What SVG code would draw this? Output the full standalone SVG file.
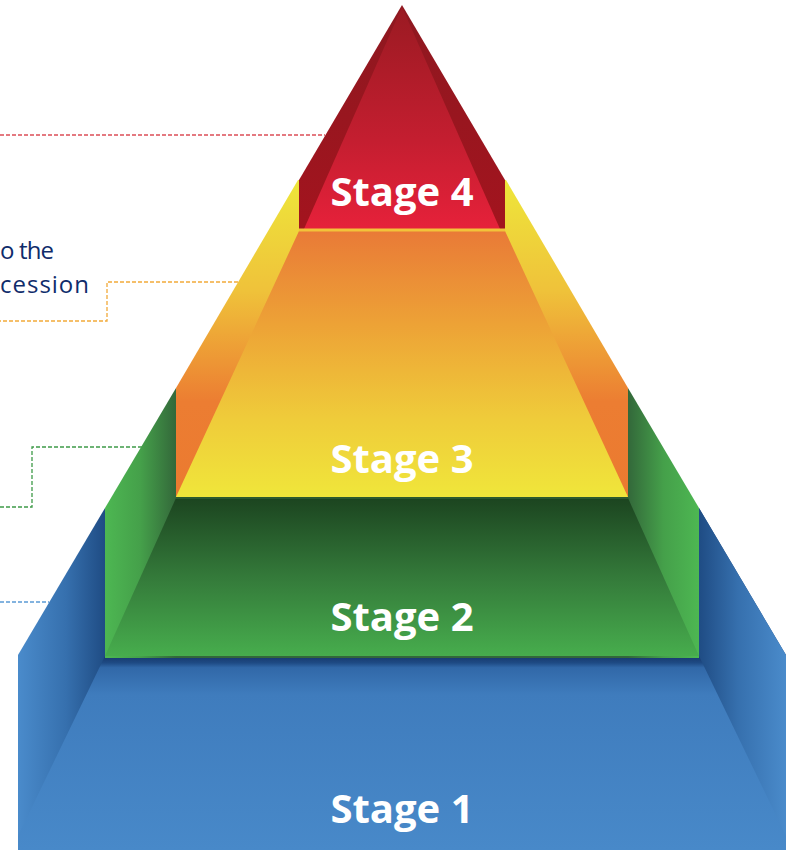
<svg xmlns="http://www.w3.org/2000/svg" width="788" height="850" viewBox="0 0 788 850">
<defs>
<style>
.lbl{font-family:"Open Sans","Liberation Sans",sans-serif;font-weight:bold;font-size:40px;fill:#ffffff;text-anchor:middle}
.side{font-family:"Open Sans","Liberation Sans",sans-serif;font-size:24px;fill:#0F2C6B}
.dash{fill:none;stroke-width:1.3;stroke-dasharray:4 2}
</style>
<linearGradient id="redOut" x1="0" y1="0" x2="0" y2="1"><stop offset="0" stop-color="#8E1820"/><stop offset="1" stop-color="#A3141E"/></linearGradient>
<linearGradient id="redFace" x1="0" y1="0" x2="0" y2="1"><stop offset="0" stop-color="#9A1A22"/><stop offset="0.6" stop-color="#C41E30"/><stop offset="1" stop-color="#E6213A"/></linearGradient>
<linearGradient id="yelSide" gradientUnits="userSpaceOnUse" x1="0" y1="180" x2="0" y2="497"><stop offset="0" stop-color="#EEE63A"/><stop offset="0.35" stop-color="#EFC23A"/><stop offset="0.7" stop-color="#EC7D32"/><stop offset="1" stop-color="#EB7A30"/></linearGradient>
<linearGradient id="yelFace" gradientUnits="userSpaceOnUse" x1="0" y1="231" x2="0" y2="497"><stop offset="0" stop-color="#E97A37"/><stop offset="0.35" stop-color="#EDA236"/><stop offset="0.7" stop-color="#EFCB3A"/><stop offset="1" stop-color="#F0E63A"/></linearGradient>
<linearGradient id="grnSideL" gradientUnits="userSpaceOnUse" x1="105" y1="0" x2="176" y2="0"><stop offset="0" stop-color="#4DB752"/><stop offset="0.5" stop-color="#45A04A"/><stop offset="1" stop-color="#33683A"/></linearGradient>
<linearGradient id="grnSideR" gradientUnits="userSpaceOnUse" x1="699" y1="0" x2="628" y2="0"><stop offset="0" stop-color="#4DB752"/><stop offset="0.5" stop-color="#45A04A"/><stop offset="1" stop-color="#33683A"/></linearGradient>
<linearGradient id="grnFace" gradientUnits="userSpaceOnUse" x1="0" y1="499" x2="0" y2="656"><stop offset="0" stop-color="#1C4520"/><stop offset="0.5" stop-color="#347A3A"/><stop offset="1" stop-color="#47AD4D"/></linearGradient>
<linearGradient id="bluSideL" gradientUnits="userSpaceOnUse" x1="18" y1="0" x2="105" y2="0"><stop offset="0" stop-color="#4A8BCB"/><stop offset="0.55" stop-color="#3670AE"/><stop offset="1" stop-color="#1F4C84"/></linearGradient>
<linearGradient id="bluSideR" gradientUnits="userSpaceOnUse" x1="786" y1="0" x2="699" y2="0"><stop offset="0" stop-color="#4A8BCB"/><stop offset="0.55" stop-color="#3670AE"/><stop offset="1" stop-color="#1F4C84"/></linearGradient>
<linearGradient id="bluFace" gradientUnits="userSpaceOnUse" x1="0" y1="656" x2="0" y2="850"><stop offset="0" stop-color="#17386A"/><stop offset="0.035" stop-color="#1E4A84"/><stop offset="0.06" stop-color="#3168A8"/><stop offset="0.2" stop-color="#3F7CBD"/><stop offset="1" stop-color="#4889C9"/></linearGradient>
</defs>
<rect width="788" height="850" fill="#ffffff"/>

<g id="connectors">
<path class="dash" stroke="#DC4E57" d="M0,135 H325"/>
<path class="dash" stroke="#F2AA3A" d="M238,282 H107 V321 H0"/>
<path class="dash" stroke="#3E9A48" d="M142,447 H32 V507 H0"/>
<path class="dash" stroke="#5B9BD5" d="M0,602 H49"/>
</g>

<g id="stage1">
<polygon points="105,508 18,655 18,850 786,850 786,655 699,508" fill="url(#bluSideL)"/>
<polygon points="402,508 699,508 786,655 786,850 402,850" fill="url(#bluSideR)"/>
<polygon points="105,656 699,656 786,836 786,850 18,850 18,836" fill="url(#bluFace)"/>
<text class="lbl" x="402" y="823">Stage 1</text>
</g>

<g id="stage2">
<polygon points="176,388 105,508 105,658 402,658 402,388" fill="url(#grnSideL)"/>
<polygon points="402,388 628,388 699,508 699,658 402,658" fill="url(#grnSideR)"/>
<polygon points="176,498 628,498 699,656 105,656" fill="url(#grnFace)"/>
<text class="lbl" x="402" y="631">Stage 2</text>
</g>

<g id="stage3">
<polygon points="298,180 176,388 176,498 628,498 628,388 506,180" fill="url(#yelSide)"/>
<polygon points="299,231 505,231 628,497 176,497" fill="url(#yelFace)"/>
<line x1="176" y1="498" x2="628" y2="498" stroke="#2D5A2E" stroke-width="2"/>
<text class="lbl" x="402" y="473">Stage 3</text>
</g>

<g id="stage4">
<polygon points="402,5 299,180 299,229 505,229 505,180" fill="url(#redOut)"/>
<polygon points="402,7 304,229 500,229" fill="url(#redFace)"/>
<line x1="299" y1="230" x2="505" y2="230" stroke="#F2C23A" stroke-width="3"/>
<text class="lbl" x="402" y="206">Stage 4</text>
</g>

<g id="side-text">
<text class="side" x="0" y="259" textLength="54" lengthAdjust="spacing">o the</text>
<text class="side" x="0" y="293" textLength="89" lengthAdjust="spacing">cession</text>
</g>
</svg>
